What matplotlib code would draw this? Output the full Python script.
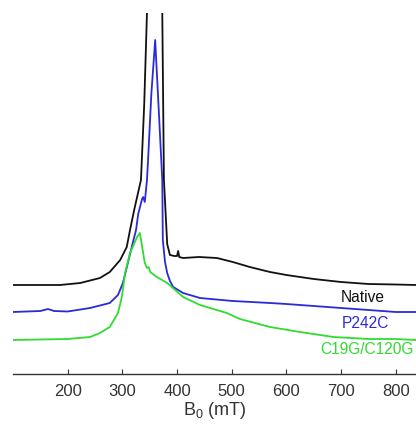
import matplotlib
matplotlib.use("Agg")
import matplotlib.pyplot as plt

plt.rcParams["font.family"] = ["Liberation Sans", "DejaVu Sans"]
plt.rcParams["mathtext.fontset"] = "custom"
plt.rcParams["mathtext.rm"] = "Liberation Sans"
plt.rcParams["mathtext.it"] = "Liberation Sans"

# EPR spectra (B0 in mT, intensity in arbitrary units)
native_b = [100, 150, 186, 223, 259, 277, 296, 308, 314, 322, 334, 340, 345,
            352, 359, 366, 373, 376, 382, 387, 395, 400, 402, 404, 411, 440,
            473, 502, 533, 570, 600, 650, 700, 750, 800, 837]
native_i = [89, 89, 89, 91, 96, 102, 114, 127, 144, 165, 194, 270, 361,
            420, 460, 420, 361, 194, 130, 119, 118, 118, 123, 117, 116, 117,
            116, 112, 107, 102, 99, 95, 92, 90, 89.5, 89]

p242c_b = [100, 150, 164, 175, 200, 241, 277, 292, 301, 310, 319, 325, 329,
           336, 338, 341, 345, 347, 353, 360, 366, 373, 374, 378, 382, 387,
           393, 411, 442, 502, 570, 600, 700, 800, 837]
p242c_i = [62, 63, 65, 63, 62.5, 66, 71, 79, 91, 111, 131, 144, 160,
           175, 177, 172, 194, 214, 280, 334, 270, 194, 134, 112, 101, 93,
           87, 81, 76, 73, 71, 70, 66, 62, 62]

c19g_b = [100, 150, 200, 241, 259, 277, 292, 299, 305, 314, 327, 332, 336,
          341, 345, 348, 351, 363, 382, 411, 442, 491, 515, 570, 625, 686,
          750, 800, 837]
c19g_i = [34, 34.5, 35, 37, 41, 47, 61, 77, 101, 121, 137, 141, 128,
          111, 106, 107, 102, 97, 91, 77, 69, 61, 55, 47, 42, 37,
          35, 35, 34]

series = [("Native", native_b, native_i, "#111111"),
          ("P242C", p242c_b, p242c_i, "#2a2ad8"),
          ("C19G/C120G", c19g_b, c19g_i, "#2fdc2f")]

fig = plt.figure(figsize=(4.16, 4.25), dpi=100)
ax = fig.add_axes([13 / 416, 51 / 425, 403 / 416, 361 / 425])

for name, b, inten, col in series:
    ax.plot(b, inten, color=col, lw=1.3)

# labels next to each trace
ax.text(740, 77, "Native", color="#111111", fontsize=11.2,
        ha="center", va="center")
ax.text(744, 50, "P242C", color="#2a2ad8", fontsize=11.2,
        ha="center", va="center")
ax.text(661, 24, "C19G/C120G", color="#2fdc2f", fontsize=11.2,
        ha="left", va="center")

ax.set_xlim(100, 837)
ax.set_ylim(0, 361)
ax.set_xticks([200, 300, 400, 500, 600, 700, 800])
ax.set_yticks([])
for s in ["left", "top", "right"]:
    ax.spines[s].set_visible(False)
ax.spines["bottom"].set_color("#333333")
ax.spines["bottom"].set_linewidth(1.0)
ax.tick_params(axis="x", direction="in", length=3.5, width=0.8,
               colors="#333333", labelsize=12, pad=7)
ax.set_xlabel(r"B$_{\mathregular{0}}$ (mT)", fontsize=13, color="#333333",
              labelpad=1)

fig.savefig("out.png", dpi=100)
